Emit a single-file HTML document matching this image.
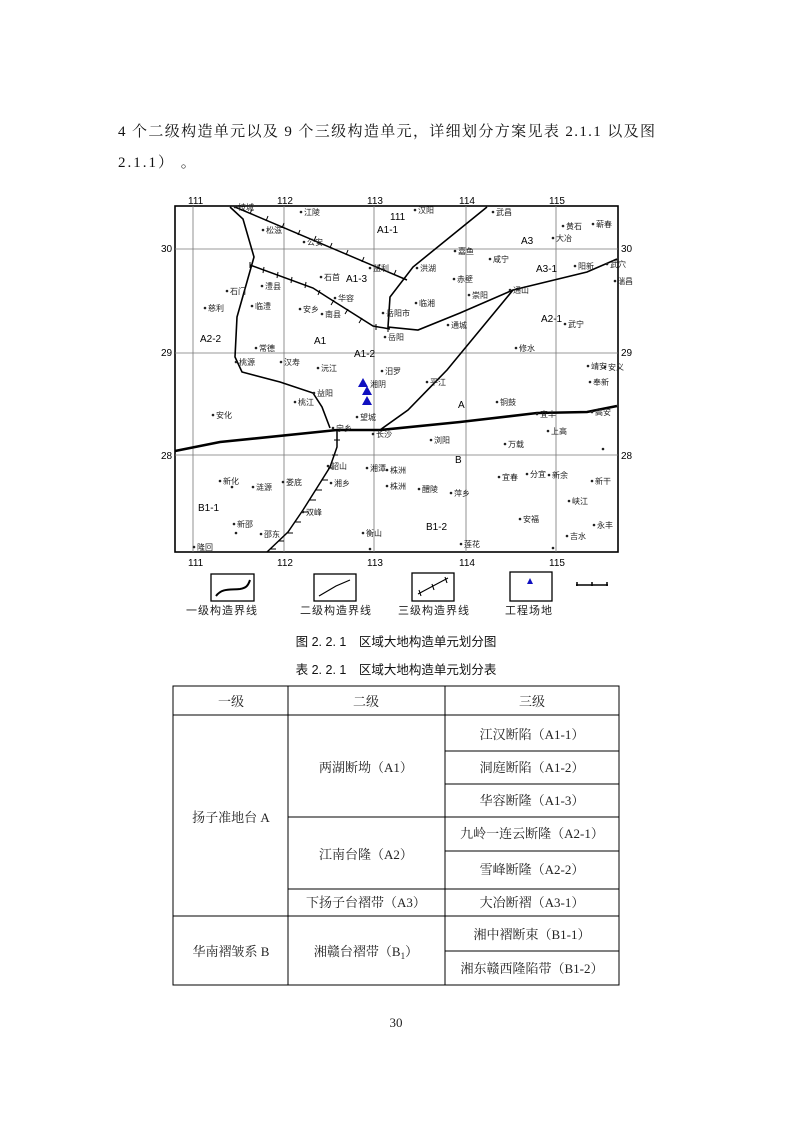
<!DOCTYPE html>
<html><head><meta charset="utf-8"><style>
body{margin:0;background:#fff}
svg text{font-family:"Liberation Serif","Noto Serif CJK SC","Noto Sans CJK SC",serif}
.m text{font-family:"Liberation Sans","Noto Sans CJK SC",sans-serif}
</style></head><body>
<svg width="793" height="1122" viewBox="0 0 793 1122" xmlns="http://www.w3.org/2000/svg">
<text x="118" y="136" font-size="15" fill="#111" textLength="537" lengthAdjust="spacing">4 个二级构造单元以及 9 个三级构造单元，详细划分方案见表 2.1.1 以及图</text>
<text x="118" y="167" font-size="15" fill="#111" letter-spacing="2">2.1.1） 。</text>
<g class="m">
<rect x="175" y="206" width="443" height="346" fill="none" stroke="#000" stroke-width="1.6"/>
<g stroke="#777" stroke-width="0.8">
<line x1="193" y1="206" x2="193" y2="552"/><line x1="284" y1="206" x2="284" y2="552"/><line x1="374" y1="206" x2="374" y2="552"/><line x1="466" y1="206" x2="466" y2="552"/><line x1="556" y1="206" x2="556" y2="552"/>
<line x1="175" y1="249" x2="618" y2="249"/><line x1="175" y1="353" x2="618" y2="353"/><line x1="175" y1="455" x2="618" y2="455"/>
</g>
<g font-size="10" fill="#000">
<text x="188" y="204">111</text><text x="277" y="204">112</text><text x="367" y="204">113</text><text x="459" y="204">114</text><text x="549" y="204">115</text>
<text x="188" y="566">111</text><text x="277" y="566">112</text><text x="367" y="566">113</text><text x="459" y="566">114</text><text x="549" y="566">115</text>
<text x="161" y="252">30</text><text x="161" y="356">29</text><text x="161" y="459">28</text>
<text x="621" y="252">30</text><text x="621" y="356">29</text><text x="621" y="459">28</text>
</g>
<g fill="none" stroke="#000">
<polyline stroke-width="2.6" points="175,451 220,442 337,430 380,430 460,422 537,413 587,412 617,406"/>
<polyline stroke-width="1.6" points="230,207 243,219 254,257 237,317 235,357 242,372 280,382 313,393 322,407 330,428"/>
<polyline stroke-width="1.6" points="487,207 413,267 390,297 388,327 418,330 460,313 513,290 587,272 617,259"/>
<polyline stroke-width="1.6" points="513,290 447,370 408,410 380,430"/>
<polyline stroke-width="1.5" points="235,207 407,280"/>
<polyline stroke-width="1.5" points="250,265 313,288 327,297 373,326 390,329"/>
<polyline stroke-width="1.5" points="337,430 337,447 330,467 320,483 303,510 288,532 267,552"/>
</g>
<g stroke="#000" stroke-width="1">
<path d="M252,209 l-2,5 M268,216 l-2,5 M284,223 l-2,5 M300,230 l-2,5 M316,236 l-2,5 M332,243 l-2,5 M348,250 l-2,5 M364,257 l-2,5 M380,264 l-2,5 M396,270 l-2,5"/>
<path d="M250,262 v6 M264,267 l-1,6 M278,272 l-1,6 M292,277 l-1,6 M306,282 l-1,6 M320,290 l-2,5 M334,300 l-3,5 M348,309 l-3,5 M362,318 l-3,5 M376,324 v6 M388,326 v6"/>
<path d="M334,440 h6 M332,455 h6 M328,468 h6 M322,480 h6 M316,490 h6 M310,500 h6 M302,512 h6 M295,522 h6 M287,533 h6 M278,541 h6 M270,549 h6"/>
</g>
<path d="M363,378 l-5,9 h10z M367,386 l-5,9 h10z M367,396 l-5,9 h10z" fill="#1010c0"/>
<g font-size="8" fill="#222">
<circle cx="235" cy="207" r="1.3"/><text x="238" y="210">枝城</text>
<circle cx="301" cy="212" r="1.3"/><text x="304" y="215">江陵</text>
<circle cx="263" cy="230" r="1.3"/><text x="266" y="233">松滋</text>
<circle cx="304" cy="242" r="1.3"/><text x="307" y="245">公安</text>
<circle cx="455" cy="251" r="1.3"/><text x="458" y="254">嘉鱼</text>
<circle cx="490" cy="259" r="1.3"/><text x="493" y="262">咸宁</text>
<circle cx="553" cy="238" r="1.3"/><text x="556" y="241">大冶</text>
<circle cx="563" cy="226" r="1.3"/><text x="566" y="229">黄石</text>
<circle cx="593" cy="224" r="1.3"/><text x="596" y="227">蕲春</text>
<circle cx="493" cy="212" r="1.3"/><text x="496" y="215">武昌</text>
<circle cx="415" cy="210" r="1.3"/><text x="418" y="213">汉阳</text>
<circle cx="370" cy="268" r="1.3"/><text x="373" y="271">监利</text>
<circle cx="417" cy="268" r="1.3"/><text x="420" y="271">洪湖</text>
<circle cx="321" cy="277" r="1.3"/><text x="324" y="280">石首</text>
<circle cx="262" cy="286" r="1.3"/><text x="265" y="289">澧县</text>
<circle cx="227" cy="291" r="1.3"/><text x="230" y="294">石门</text>
<circle cx="205" cy="308" r="1.3"/><text x="208" y="311">慈利</text>
<circle cx="252" cy="306" r="1.3"/><text x="255" y="309">临澧</text>
<circle cx="300" cy="309" r="1.3"/><text x="303" y="312">安乡</text>
<circle cx="335" cy="298" r="1.3"/><text x="338" y="301">华容</text>
<circle cx="322" cy="314" r="1.3"/><text x="325" y="317">南县</text>
<circle cx="383" cy="313" r="1.3"/><text x="386" y="316">岳阳市</text>
<circle cx="416" cy="303" r="1.3"/><text x="419" y="306">临湘</text>
<circle cx="454" cy="279" r="1.3"/><text x="457" y="282">赤壁</text>
<circle cx="469" cy="295" r="1.3"/><text x="472" y="298">崇阳</text>
<circle cx="510" cy="290" r="1.3"/><text x="513" y="293">通山</text>
<circle cx="448" cy="325" r="1.3"/><text x="451" y="328">通城</text>
<circle cx="565" cy="324" r="1.3"/><text x="568" y="327">武宁</text>
<circle cx="575" cy="266" r="1.3"/><text x="578" y="269">阳新</text>
<circle cx="607" cy="264" r="1.3"/><text x="610" y="267">武穴</text>
<circle cx="615" cy="281" r="1.3"/><text x="617" y="284">瑞昌</text>
<circle cx="385" cy="337" r="1.3"/><text x="388" y="340">岳阳</text>
<circle cx="256" cy="348" r="1.3"/><text x="259" y="351">常德</text>
<circle cx="236" cy="362" r="1.3"/><text x="239" y="365">桃源</text>
<circle cx="281" cy="362" r="1.3"/><text x="284" y="365">汉寿</text>
<circle cx="318" cy="368" r="1.3"/><text x="321" y="371">沅江</text>
<circle cx="382" cy="371" r="1.3"/><text x="385" y="374">汨罗</text>
<circle cx="516" cy="348" r="1.3"/><text x="519" y="351">修水</text>
<circle cx="588" cy="366" r="1.3"/><text x="591" y="369">靖安</text>
<circle cx="605" cy="367" r="1.3"/><text x="608" y="370">安义</text>
<text x="370" y="387">湘阴</text>
<circle cx="427" cy="382" r="1.3"/><text x="430" y="385">平江</text>
<circle cx="590" cy="382" r="1.3"/><text x="593" y="385">奉新</text>
<circle cx="314" cy="393" r="1.3"/><text x="317" y="396">益阳</text>
<circle cx="295" cy="402" r="1.3"/><text x="298" y="405">桃江</text>
<circle cx="213" cy="415" r="1.3"/><text x="216" y="418">安化</text>
<circle cx="357" cy="417" r="1.3"/><text x="360" y="420">望城</text>
<circle cx="497" cy="402" r="1.3"/><text x="500" y="405">铜鼓</text>
<circle cx="537" cy="414" r="1.3"/><text x="540" y="417">宜丰</text>
<circle cx="592" cy="412" r="1.3"/><text x="595" y="415">高安</text>
<circle cx="333" cy="428" r="1.3"/><text x="336" y="431">宁乡</text>
<circle cx="373" cy="434" r="1.3"/><text x="376" y="437">长沙</text>
<circle cx="431" cy="440" r="1.3"/><text x="434" y="443">浏阳</text>
<circle cx="505" cy="444" r="1.3"/><text x="508" y="447">万载</text>
<circle cx="548" cy="431" r="1.3"/><text x="551" y="434">上高</text>
<circle cx="603" cy="449" r="1.3"/>
<circle cx="328" cy="466" r="1.3"/><text x="331" y="469">韶山</text>
<circle cx="367" cy="468" r="1.3"/><text x="370" y="471">湘潭</text>
<circle cx="387" cy="470" r="1.3"/><text x="390" y="473">株洲</text>
<circle cx="220" cy="481" r="1.3"/><text x="223" y="484">新化</text><circle cx="232" cy="487" r="1.3"/>
<circle cx="253" cy="487" r="1.3"/><text x="256" y="490">涟源</text>
<circle cx="283" cy="482" r="1.3"/><text x="286" y="485">娄底</text>
<circle cx="331" cy="483" r="1.3"/><text x="334" y="486">湘乡</text>
<circle cx="387" cy="486" r="1.3"/><text x="390" y="489">株洲</text>
<circle cx="419" cy="489" r="1.3"/><text x="422" y="492">醴陵</text>
<circle cx="451" cy="493" r="1.3"/><text x="454" y="496">萍乡</text>
<circle cx="499" cy="477" r="1.3"/><text x="502" y="480">宜春</text>
<circle cx="527" cy="474" r="1.3"/><text x="530" y="477">分宜</text>
<circle cx="549" cy="475" r="1.3"/><text x="552" y="478">新余</text>
<circle cx="592" cy="481" r="1.3"/><text x="595" y="484">新干</text>
<circle cx="569" cy="501" r="1.3"/><text x="572" y="504">峡江</text>
<circle cx="303" cy="512" r="1.3"/><text x="306" y="515">双峰</text>
<circle cx="520" cy="519" r="1.3"/><text x="523" y="522">安福</text>
<circle cx="594" cy="525" r="1.3"/><text x="597" y="528">永丰</text>
<circle cx="234" cy="524" r="1.3"/><text x="237" y="527">新邵</text><circle cx="236" cy="533" r="1.3"/>
<circle cx="261" cy="534" r="1.3"/><text x="264" y="537">邵东</text>
<circle cx="363" cy="533" r="1.3"/><text x="366" y="536">衡山</text>
<circle cx="370" cy="549" r="1.3"/>
<circle cx="567" cy="536" r="1.3"/><text x="570" y="539">吉水</text>
<circle cx="461" cy="544" r="1.3"/><text x="464" y="547">莲花</text>
<circle cx="553" cy="548" r="1.3"/>
<circle cx="194" cy="547" r="1.3"/><text x="197" y="550">隆回</text>
</g>
<g font-size="10" fill="#000">
<text x="390" y="220">111</text><text x="377" y="233">A1-1</text><text x="521" y="244">A3</text><text x="536" y="272">A3-1</text>
<text x="541" y="322">A2-1</text><text x="200" y="342">A2-2</text><text x="314" y="344">A1</text><text x="354" y="357">A1-2</text>
<text x="346" y="282">A1-3</text><text x="458" y="408">A</text><text x="455" y="463">B</text><text x="198" y="511">B1-1</text><text x="426" y="530">B1-2</text>
</g>
<g fill="none" stroke="#000">
<rect x="211" y="574" width="43" height="27" stroke-width="1.3"/>
<path d="M216,596 C222,588 230,590 240,589 C246,588 248,586 250,580" stroke-width="2"/>
<rect x="314" y="574" width="42" height="27" stroke-width="1.3"/>
<path d="M319,596 L336,586 L350,580" stroke-width="1.2"/>
<rect x="412" y="573" width="42" height="28" stroke-width="1.3"/>
<path d="M418,594 L448,578 M419,590 l2,6 M432,584 l2,6 M445,577 l2,6" stroke-width="1.1"/>
<rect x="510" y="572" width="42" height="29" stroke-width="1.3"/>
<path d="M576,585 h32 M577,582 v4 M592,582 v4 M607,582 v4" stroke-width="1.5"/>
</g>
<path d="M530,578 l-3,6 h6z" fill="#1010c0"/>
<g font-size="11" fill="#222" letter-spacing="1"><text x="186" y="614">一级构造界线</text><text x="300" y="614">二级构造界线</text><text x="398" y="614">三级构造界线</text><text x="505" y="614">工程场地</text></g>
</g>
<g font-size="12.5" fill="#111" text-anchor="middle">
<text x="396" y="646" style="font-family:'Liberation Sans','Noto Sans CJK SC',sans-serif">图 2. 2. 1　区域大地构造单元划分图</text>
<text x="396" y="674" style="font-family:'Liberation Sans','Noto Sans CJK SC',sans-serif">表 2. 2. 1　区域大地构造单元划分表</text>
</g>
<g stroke="#000" stroke-width="1" fill="none">
<rect x="173" y="686" width="446" height="299"/>
<line x1="288" y1="686" x2="288" y2="985"/><line x1="445" y1="686" x2="445" y2="985"/>
<line x1="173" y1="715" x2="619" y2="715"/>
<line x1="445" y1="751" x2="619" y2="751"/><line x1="445" y1="784" x2="619" y2="784"/>
<line x1="288" y1="817" x2="619" y2="817"/><line x1="445" y1="851" x2="619" y2="851"/>
<line x1="288" y1="889" x2="619" y2="889"/><line x1="173" y1="916" x2="619" y2="916"/>
<line x1="445" y1="951" x2="619" y2="951"/>
</g>
<g font-size="13" fill="#222" text-anchor="middle">
<text x="231" y="706">一级</text><text x="366" y="706">二级</text><text x="532" y="706">三级</text>
<text x="532" y="739">江汉断陷（A1-1）</text><text x="532" y="772">洞庭断陷（A1-2）</text><text x="532" y="805">华容断隆（A1-3）</text>
<text x="532" y="838">九岭一连云断隆（A2-1）</text><text x="532" y="874">雪峰断隆（A2-2）</text><text x="532" y="907">大冶断褶（A3-1）</text>
<text x="532" y="939">湘中褶断束（B1-1）</text><text x="532" y="973">湘东赣西隆陷带（B1-2）</text>
<text x="366" y="772">两湖断坳（A1）</text><text x="366" y="859">江南台隆（A2）</text><text x="366" y="907">下扬子台褶带（A3）</text>
<text x="366" y="956">湘赣台褶带（B<tspan font-size="9" dy="3">1</tspan><tspan dy="-3">）</tspan></text>
<text x="231" y="822">扬子准地台 A</text><text x="231" y="956">华南褶皱系 B</text>
<text x="396" y="1027">30</text>
</g>
</svg>
</body></html>
